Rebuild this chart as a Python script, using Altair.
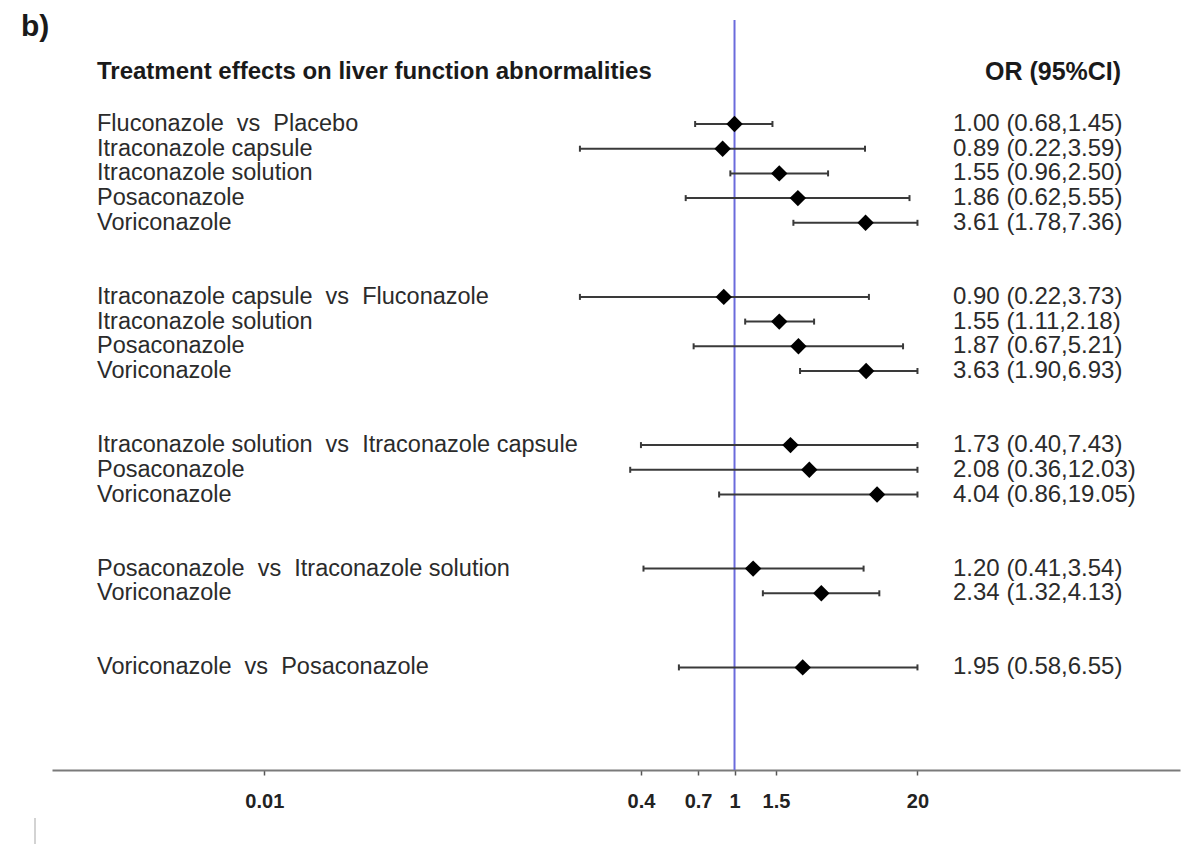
import altair as alt
import pandas as pd

# Comparisons, listed top to bottom in the forest plot
labels = [
    "Fluconazole\u00a0 vs\u00a0 Placebo",
    "Itraconazole capsule",
    "Itraconazole solution",
    "Posaconazole",
    "Voriconazole",
    "Itraconazole capsule\u00a0 vs\u00a0 Fluconazole",
    "Itraconazole solution",
    "\u00a0Posaconazole",
    "Voriconazole",
    "Itraconazole solution\u00a0 vs\u00a0 Itraconazole capsule",
    "Posaconazole",
    "Voriconazole",
    "Posaconazole\u00a0 vs\u00a0 Itraconazole solution",
    "Voriconazole",
    "Voriconazole\u00a0 vs\u00a0 Posaconazole",
]
# Row slot of each comparison (blank slots separate the groups)
rows = [0, 1, 2, 3, 4, 7, 8, 9, 10, 13, 14, 15, 18, 19, 22]
odds_ratio = [1.00, 0.89, 1.55, 1.86, 3.61, 0.90, 1.55, 1.87, 3.63, 1.73, 2.08, 4.04, 1.20, 2.34, 1.95]
ci_low = [0.68, 0.22, 0.96, 0.62, 1.78, 0.22, 1.11, 0.67, 1.90, 0.40, 0.36, 0.86, 0.41, 1.32, 0.58]
ci_high = [1.45, 3.59, 2.50, 5.55, 7.36, 3.73, 2.18, 5.21, 6.93, 7.43, 12.03, 19.05, 3.54, 4.13, 6.55]

# Upper limit at which confidence intervals are clipped
CLIP_HIGH = 6.0
tick_values = [0.01, 0.4, 0.7, 1, 1.5, 6]
tick_labels = ["0.01", "0.4", "0.7", "1", "1.5", "20"]

df = pd.DataFrame({
    "label": labels,
    "row": rows,
    "or": odds_ratio,
    "lo": ci_low,
    "hi": ci_high,
})
df["hi_draw"] = df["hi"].clip(upper=CLIP_HIGH)
df["or_text"] = [f"{o:.2f} ({l:.2f},{h:.2f})" for o, l, h in zip(odds_ratio, ci_low, ci_high)]

FONT = "Liberation Sans, Arial, sans-serif"
W, H = 1128, 750

label_expr = " : ".join(
    f"datum.value == {v} ? '{t}'" for v, t in zip(tick_values, tick_labels)
) + " : datum.label"

x_scale = alt.Scale(type="log", domain=[0.00125, 78.5], nice=False)
y_scale = alt.Scale(domain=[-104 / 24.7, (H - 104) / 24.7], reverse=True, nice=False, zero=False)

x_axis = alt.Axis(
    values=tick_values,
    labelExpr=label_expr,
    grid=False,
    title=None,
    domainColor="#7a7a7a",
    domainWidth=2,
    tickColor="#555555",
    tickSize=5,
    tickWidth=1.5,
    labelFont=FONT,
    labelFontSize=20,
    labelFontWeight="bold",
    labelColor="#222222",
    labelPadding=16,
    labelFlush=False,
    labelOverlap=False,
)

base = alt.Chart(df)

ci_lines = base.mark_rule(color="#3a3a3a", strokeWidth=2).encode(
    x=alt.X("lo:Q", scale=x_scale, axis=x_axis),
    x2="hi_draw:Q",
    y=alt.Y("row:Q", scale=y_scale, axis=None),
)

cap_shape = "M0,-1L0,1"
caps_lo = base.mark_point(shape=cap_shape, filled=False, color="#3a3a3a", strokeWidth=2, size=36, opacity=1).encode(
    x=alt.X("lo:Q", scale=x_scale),
    y=alt.Y("row:Q", scale=y_scale),
)
caps_hi = base.mark_point(shape=cap_shape, filled=False, color="#3a3a3a", strokeWidth=2, size=36, opacity=1).encode(
    x=alt.X("hi_draw:Q", scale=x_scale),
    y=alt.Y("row:Q", scale=y_scale),
)

points = base.mark_point(shape="diamond", filled=True, color="black", size=270, opacity=1).encode(
    x=alt.X("or:Q", scale=x_scale),
    y=alt.Y("row:Q", scale=y_scale),
)

null_line = alt.Chart(pd.DataFrame({"v": [1]})).mark_rule(color="#6b6bdc", strokeWidth=2).encode(
    x=alt.X("v:Q", scale=x_scale),
    y=alt.value(0),
    y2=alt.value(H),
)

row_labels = base.mark_text(align="left", baseline="middle", font=FONT, fontSize=23.5, color="#2b2b2b").encode(
    x=alt.value(45),
    y=alt.Y("row:Q", scale=y_scale),
    text="label:N",
)

or_labels = base.mark_text(align="left", baseline="middle", font=FONT, fontSize=24, color="#2b2b2b").encode(
    x=alt.value(901),
    y=alt.Y("row:Q", scale=y_scale),
    text="or_text:N",
)

header_left = alt.Chart(pd.DataFrame({"t": ["Treatment effects on liver function abnormalities"]})).mark_text(
    align="left", baseline="middle", font=FONT, fontSize=24, fontWeight="bold", color="#1a1a1a"
).encode(
    x=alt.value(45),
    y=alt.value(52),
    text="t:N",
)

header_right = alt.Chart(pd.DataFrame({"t": ["OR (95%CI)"]})).mark_text(
    align="left", baseline="middle", font=FONT, fontSize=25, fontWeight="bold", color="#1a1a1a"
).encode(
    x=alt.value(933),
    y=alt.value(52),
    text="t:N",
)

panel_tag = alt.Chart(pd.DataFrame({"t": ["b)"]})).mark_text(
    align="left", baseline="middle", font=FONT, fontSize=30, fontWeight="bold", color="#1a1a1a"
).encode(
    x=alt.value(-31),
    y=alt.value(7),
    text="t:N",
)

corner_mark = alt.Chart(pd.DataFrame({"v": [0]})).mark_rule(color="#c4c4c4", strokeWidth=1.5).encode(
    x=alt.value(-17),
    y=alt.value(798),
    y2=alt.value(826),
)

chart = alt.layer(
    null_line, ci_lines, caps_lo, caps_hi, points, row_labels, or_labels,
    header_left, header_right, panel_tag, corner_mark
).properties(
    width=W,
    height=H,
    autosize=alt.AutoSizeParams(type="none"),
    padding={"left": 52, "top": 20, "right": 11, "bottom": 74},
    background="white",
).configure_view(stroke=None)

chart.save("out.html", embed_options={"renderer": "svg", "actions": False})
